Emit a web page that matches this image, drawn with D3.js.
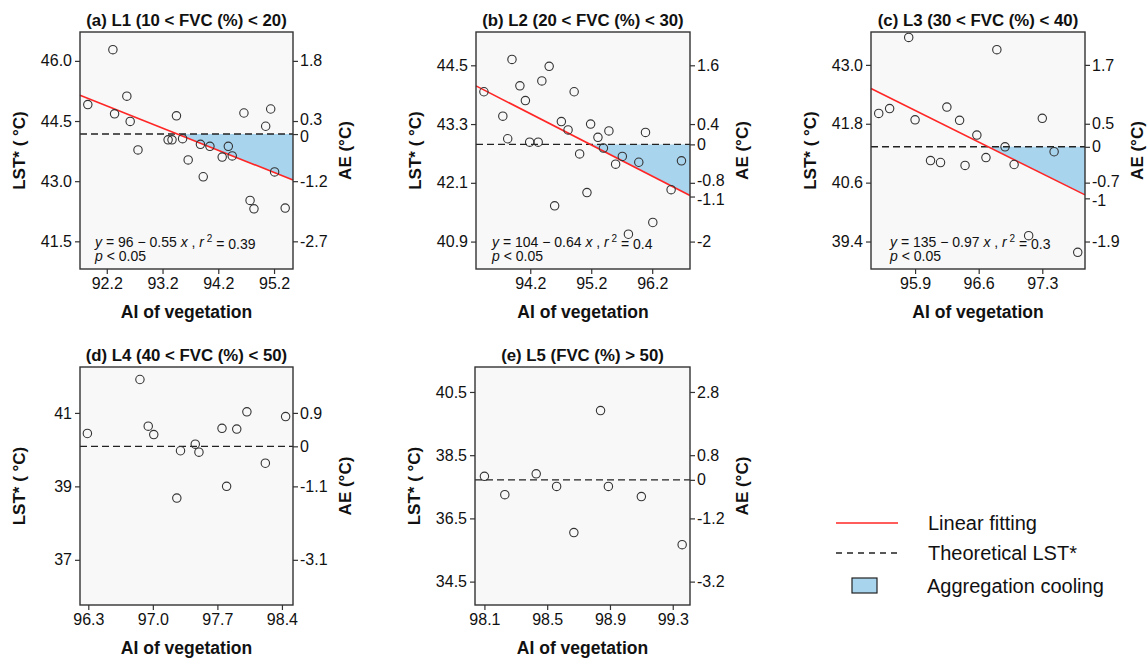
<!DOCTYPE html>
<html><head><meta charset="utf-8">
<script src="https://cdn.jsdelivr.net/npm/d3@7"></script>
<style>body{margin:0;background:#fff}svg{display:block}text{font-family:"Liberation Sans",Arial,Helvetica,sans-serif;fill:#111}</style>
</head><body><svg id="chart" width="1148" height="659"></svg>
<script>
// ---------------- data ----------------
const titles = ["(a) L1 (10 < FVC (%) < 20)", "(b) L2 (20 < FVC (%) < 30)", "(c) L3 (30 < FVC (%) < 40)", "(d) L4 (40 < FVC (%) < 50)", "(e) L5 (FVC (%) > 50)"];

const aiA  = [91.86,92.31,92.34,92.56,92.62,92.76,93.30,93.37,93.45,93.56,93.66,93.88,93.93,94.05,94.27,94.38,94.45,94.66,94.77,94.84,95.05,95.14,95.21,95.40];
const lstA = [44.91,46.28,44.68,45.12,44.49,43.78,44.03,44.03,44.63,44.06,43.53,43.92,43.11,43.87,43.60,43.87,43.63,44.70,42.52,42.31,44.37,44.80,43.23,42.33];

const aiB  = [93.44,93.75,93.83,93.90,94.03,94.12,94.19,94.33,94.39,94.51,94.60,94.71,94.82,94.92,95.01,95.13,95.19,95.31,95.40,95.49,95.60,95.71,95.81,95.98,96.09,96.21,96.51,96.68];
const lstB = [43.96,43.46,43.00,44.62,44.08,43.78,42.93,42.93,44.18,44.48,41.63,43.35,43.18,43.96,42.69,41.90,43.30,43.03,42.81,43.16,42.48,42.64,41.05,42.52,43.13,41.29,41.96,42.55];

const aiC  = [95.50,95.62,95.83,95.90,96.07,96.18,96.25,96.39,96.45,96.58,96.68,96.80,96.89,96.99,97.15,97.30,97.43,97.69];
const lstC = [42.01,42.11,43.56,41.88,41.05,41.01,42.14,41.87,40.95,41.57,41.11,43.31,41.33,40.97,39.52,41.91,41.23,39.18];

const aiD  = [96.29,96.86,96.95,97.01,97.26,97.30,97.46,97.50,97.75,97.80,97.91,98.02,98.22,98.44];
const lstD = [40.44,41.91,40.64,40.41,38.68,39.97,40.15,39.93,40.58,39.00,40.56,41.03,39.63,40.90];

const aiE  = [98.10,98.23,98.43,98.56,98.67,98.84,98.89,99.10,99.36];
const lstE = [37.83,37.25,37.91,37.51,36.05,39.91,37.51,37.19,35.67];

const xDomains = [[91.72,95.54],[93.31,96.82],[95.415,97.77],[96.21,98.52],[98.04,99.41]];
const yDomains = [[40.81,46.72],[40.34,45.18],[38.84,43.67],[35.77,42.25],[33.76,41.29]];
const xTicks = [[92.2,93.2,94.2,95.2],[94.2,95.2,96.2],[95.9,96.6,97.3],[96.3,97.0,97.7,98.4],[98.1,98.5,98.9,99.3]];
const yTicks = [[41.5,43.0,44.5,46.0],[40.9,42.1,43.3,44.5],[39.4,40.6,41.8,43.0],[37,39,41],[34.5,36.5,38.5,40.5]];
const yTickDecimals = [1,1,1,0,1];
const theoretical = [44.175,42.885,41.33,40.09,37.72];
const aeTickPos = [[46.0,44.5,44.175,43.0,41.5],[44.5,43.3,42.885,42.1,41.82,40.9],[43.0,41.8,41.33,40.6,40.28,39.4],[41,40.09,39,37],[40.5,38.5,37.72,36.5,34.5]];
const aeTickLabels = [["1.8","0.3","0","-1.2","-2.7"],["1.6","0.4","0","-0.8","-1.1","-2"],["1.7","0.5","0","-0.7","-1","-1.9"],["0.9","0","-1.1","-3.1"],["2.8","0.8","0","-1.2","-3.2"]];
// fitted line end points [AI, LST]
const fitLines = [[[91.72,45.14],[95.54,43.03]],[[93.31,44.08],[96.82,41.84]],[[95.415,42.52],[97.77,40.35]],null,null];
const fitIntercepts = ["96","104","135"];
const fitSlopes = ["0.55","0.64","0.97"];
const fitR2 = ["0.39","0.4","0.3"];
const fitP = ["0.05","0.05","0.05"];
const legendLabels = ["Linear fitting","Theoretical LST*","Aggregation cooling"];

// ---------------- layout ----------------
const boxes = [{l:80,r:293,t:32,b:269},{l:476,r:690,t:32,b:269},{l:871,r:1085,t:32,b:269},{l:80,r:293,t:367,b:605},{l:475,r:690,t:367,b:605}];
const eqOffsets = [15,16,19];
// small vertical nudges (px) for crowded right-axis labels
const aeLabelNudge = [[0,-2,2,0,0],[0,0,0,-2,3,0],[0,0,0,-1,2,0],[0,0,0,0],[0,0,0,0,0]];
const RED = "#ff2626", BLUE = "#a9d4ee", BG = "#f8f8f8", DARK = "#333";

const svg = d3.select("#chart");
const series = [[aiA,lstA],[aiB,lstB],[aiC,lstC],[aiD,lstD],[aiE,lstE]];

series.forEach((s,i) => {
  const bx = boxes[i];
  const x = d3.scaleLinear().domain(xDomains[i]).range([bx.l,bx.r]);
  const y = d3.scaleLinear().domain(yDomains[i]).range([bx.b,bx.t]);
  const g = svg.append("g");
  g.append("rect").attr("x",bx.l).attr("y",bx.t).attr("width",bx.r-bx.l).attr("height",bx.b-bx.t).attr("fill",BG);

  const th = theoretical[i];
  const fl = fitLines[i];
  if (fl) {
    const [p0,p1] = fl;
    const slope = (p1[1]-p0[1])/(p1[0]-p0[0]);
    const xc = p0[0] + (th - p0[1])/slope;
    const poly = [[xc,th],[p1[0],th],[p1[0],p1[1]]];
    g.append("path").attr("d", d3.line().x(d=>x(d[0])).y(d=>y(d[1]))(poly)+"Z").attr("fill",BLUE);
  }
  g.append("line").attr("x1",bx.l).attr("x2",bx.r).attr("y1",y(th)).attr("y2",y(th))
    .attr("stroke","#222").attr("stroke-width",1.4).attr("stroke-dasharray","7,4");
  if (fl) {
    g.append("path").attr("d", d3.line().x(d=>x(d[0])).y(d=>y(d[1]))(fl))
      .attr("stroke",RED).attr("stroke-width",1.6).attr("fill","none");
  }
  g.selectAll("circle.pt").data(s[0].map((v,k)=>[v,s[1][k]])).join("circle").attr("class","pt")
    .attr("cx",d=>x(d[0])).attr("cy",d=>y(d[1])).attr("r",4.2)
    .attr("fill","none").attr("stroke","#333").attr("stroke-width",1.1);
  g.append("rect").attr("x",bx.l).attr("y",bx.t).attr("width",bx.r-bx.l).attr("height",bx.b-bx.t)
    .attr("fill","none").attr("stroke",DARK).attr("stroke-width",1.4);

  const styleAxis = a => {
    a.select(".domain").remove();
    a.selectAll(".tick line").attr("stroke",DARK).attr("stroke-width",1.2);
    a.selectAll(".tick text").style("font-family","'Liberation Sans',Arial,sans-serif").style("font-size","16px").attr("fill","#111");
  };
  g.append("g").attr("transform",`translate(0,${bx.b})`)
    .call(d3.axisBottom(x).tickValues(xTicks[i]).tickFormat(d3.format(".1f")).tickSize(5).tickPadding(4)).call(styleAxis);
  g.append("g").attr("transform",`translate(${bx.l},0)`)
    .call(d3.axisLeft(y).tickValues(yTicks[i]).tickFormat(d3.format("."+yTickDecimals[i]+"f")).tickSize(5).tickPadding(3)).call(styleAxis);
  const ra = g.append("g").attr("transform",`translate(${bx.r},0)`)
    .call(d3.axisRight(y).tickValues(aeTickPos[i]).tickFormat((d,k)=>aeTickLabels[i][k]).tickSize(5).tickPadding(2)).call(styleAxis);
  ra.selectAll(".tick text").attr("y",(d,k)=>aeLabelNudge[i][k]);

  const cx = (bx.l+bx.r)/2, cy = (bx.t+bx.b)/2;
  g.append("text").attr("x",cx).attr("y",bx.t-12).attr("dy","0.35em").attr("text-anchor","middle")
    .style("font-size","16.8px").style("font-weight","bold").text(titles[i]);
  g.append("text").attr("x",cx).attr("y",bx.b+43).attr("dy","0.35em").attr("text-anchor","middle")
    .style("font-size","17.5px").style("font-weight","bold").text("AI of vegetation");
  g.append("text").attr("transform",`translate(${bx.l-61},${cy}) rotate(-90)`).attr("dy","0.35em").attr("text-anchor","middle")
    .style("font-size","17px").style("font-weight","bold").attr("xml:space","preserve").text("LST* ( °C)");
  g.append("text").attr("transform",`translate(${bx.r+52},${cy}) rotate(-90)`).attr("dy","0.35em").attr("text-anchor","middle")
    .style("font-size","17px").style("font-weight","bold").text("AE (°C)");

  if (fl) {
    const tx = bx.l + eqOffsets[i];
    const t1 = g.append("text").attr("x",tx).attr("y",bx.b-27).attr("dy","0.35em").style("font-size","14px").attr("xml:space","preserve");
    t1.append("tspan").style("font-style","italic").text("y");
    t1.append("tspan").text(` = ${fitIntercepts[i]} \u2212 ${fitSlopes[i]} `);
    t1.append("tspan").style("font-style","italic").text("x");
    t1.append("tspan").text(" , ");
    t1.append("tspan").style("font-style","italic").text("r");
    t1.append("tspan").attr("dy","-0.45em").style("font-size","10px").text(" 2");
    t1.append("tspan").attr("dy","0.45em").text(` = ${fitR2[i]}`);
    const t2 = g.append("text").attr("x",tx).attr("y",bx.b-13).attr("dy","0.35em").style("font-size","14px").attr("xml:space","preserve");
    t2.append("tspan").style("font-style","italic").text("p");
    t2.append("tspan").text(` < ${fitP[i]}`);
  }
});

// ---------------- legend ----------------
const lg = svg.append("g");
lg.append("line").attr("x1",836).attr("x2",898).attr("y1",523).attr("y2",523).attr("stroke",RED).attr("stroke-width",1.6);
lg.append("line").attr("x1",836).attr("x2",898).attr("y1",553).attr("y2",553).attr("stroke","#222").attr("stroke-width",1.3).attr("stroke-dasharray","6,5");
lg.append("rect").attr("x",852).attr("y",578).attr("width",25).attr("height",15).attr("fill",BLUE).attr("stroke","#222").attr("stroke-width",1.2);
const ly = [523,553,586];
const lx = [928,928,927];
legendLabels.forEach((t,k)=>{
  lg.append("text").attr("x",lx[k]).attr("y",ly[k]).attr("dy","0.35em").style("font-size","20px").text(t);
});
</script></body></html>
